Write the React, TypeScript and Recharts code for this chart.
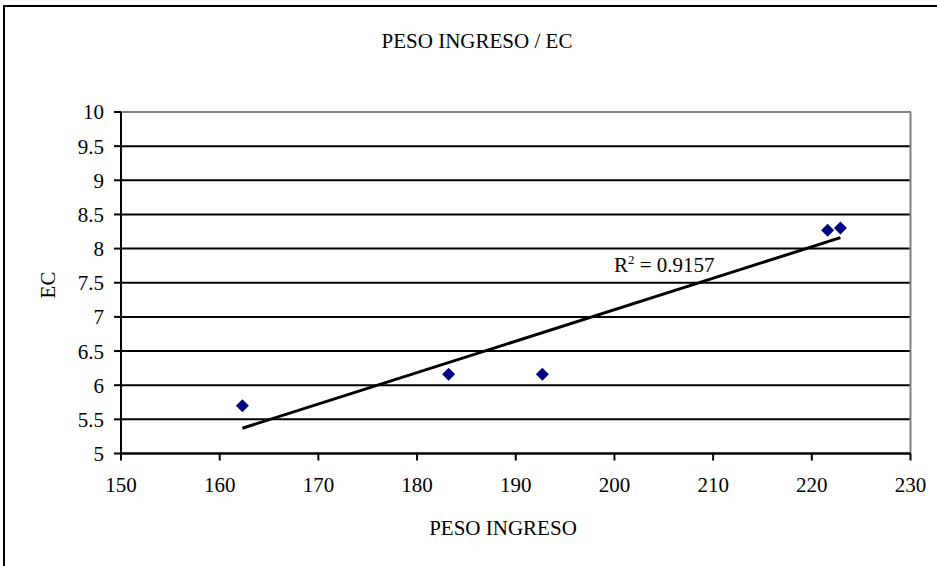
import React from "react";
import {
  ScatterChart,
  Scatter,
  XAxis,
  YAxis,
  CartesianGrid,
  ReferenceLine,
} from "recharts";

// Observed points (PESO INGRESO vs EC)
const pesoIngreso = [162.3, 183.2, 192.7, 221.6, 222.9];
const ecValues = [5.7, 6.16, 6.16, 8.27, 8.3];

// Linear trendline endpoints
const trendX = [162.3, 222.9];
const trendY = [5.37, 8.16];

const xTicks = [150, 160, 170, 180, 190, 200, 210, 220, 230];
const yTicks = [5, 5.5, 6, 6.5, 7, 7.5, 8, 8.5, 9, 9.5, 10];

const chartTitle = "PESO INGRESO / EC";
const xLabel = "PESO INGRESO";
const yLabel = "EC";
const r2Value = "0.9157";

const points = pesoIngreso.map((x, i) => ({ x, y: ecValues[i] }));
const trend = trendX.map((x, i) => ({ x, y: trendY[i] }));

const FONT = "'Liberation Serif', 'Times New Roman', serif";

const Diamond = (props: any) => {
  const { cx, cy } = props;
  if (cx == null || cy == null) return null;
  const r = 6.5;
  return (
    <polygon
      points={`${cx},${cy - r} ${cx + r},${cy} ${cx},${cy + r} ${cx - r},${cy}`}
      fill="#000080"
    />
  );
};

const NoShape = () => null;

export default function App() {
  return (
    <div
      style={{
        position: "fixed",
        left: 0,
        top: 0,
        width: 937,
        height: 566,
        overflow: "hidden",
        background: "#fff",
      }}
    >
      <div style={{ position: "absolute", left: 0, top: 0 }}>
        <ScatterChart
          width={937}
          height={566}
          margin={{ top: 112, right: 26.5, bottom: 72.5, left: 61 }}
        >
          <CartesianGrid
            vertical={false}
            stroke="#000"
            strokeWidth={2}
            strokeOpacity={1}
          />
          <XAxis
            type="number"
            dataKey="x"
            domain={[150, 230]}
            ticks={xTicks}
            interval={0}
            height={40}
            axisLine={{ stroke: "#000", strokeWidth: 2 }}
            tickLine={{ stroke: "#000", strokeWidth: 2 }}
            tickSize={7}
            tickMargin={17}
            tick={{ fill: "#000", fontSize: 21, fontFamily: FONT }}
            allowDataOverflow
          />
          <YAxis
            type="number"
            dataKey="y"
            domain={[5, 10]}
            ticks={yTicks}
            interval={0}
            width={60}
            axisLine={{ stroke: "#000", strokeWidth: 2 }}
            tickLine={{ stroke: "#000", strokeWidth: 2 }}
            tickSize={7}
            tickMargin={10}
            tick={{ fill: "#000", fontSize: 21, fontFamily: FONT }}
            allowDataOverflow
          />
          <ReferenceLine y={10} stroke="#808080" strokeWidth={2} />
          <ReferenceLine x={230} stroke="#808080" strokeWidth={2} />
          <Scatter
            data={trend}
            line={{ stroke: "#000", strokeWidth: 3 }}
            shape={NoShape}
            isAnimationActive={false}
          />
          <Scatter
            data={points}
            shape={Diamond}
            isAnimationActive={false}
          />
        </ScatterChart>
      </div>
      <svg
        width={937}
        height={566}
        style={{ position: "absolute", left: 0, top: 0, pointerEvents: "none" }}
      >
        <text
          x={477}
          y={48}
          textAnchor="middle"
          fontFamily={FONT}
          fontSize={21}
          fill="#000"
        >
          {chartTitle}
        </text>
        <text
          x={503}
          y={535}
          textAnchor="middle"
          fontFamily={FONT}
          fontSize={21}
          fill="#000"
        >
          {xLabel}
        </text>
        <text
          x={0}
          y={0}
          transform="translate(48,285) rotate(-90)"
          textAnchor="middle"
          dominantBaseline="central"
          fontFamily={FONT}
          fontSize={21}
          fill="#000"
        >
          {yLabel}
        </text>
        <text x={614} y={272} fontFamily={FONT} fontSize={21} fill="#000">
          R
          <tspan fontSize={13} dy={-8}>
            2
          </tspan>
          <tspan dy={8}>{` = ${r2Value}`}</tspan>
        </text>
      </svg>
      <div
        style={{
          position: "absolute",
          left: 3,
          top: 5,
          width: 945,
          height: 575,
          border: "2px solid #000",
          boxSizing: "border-box",
        }}
      />
    </div>
  );
}
